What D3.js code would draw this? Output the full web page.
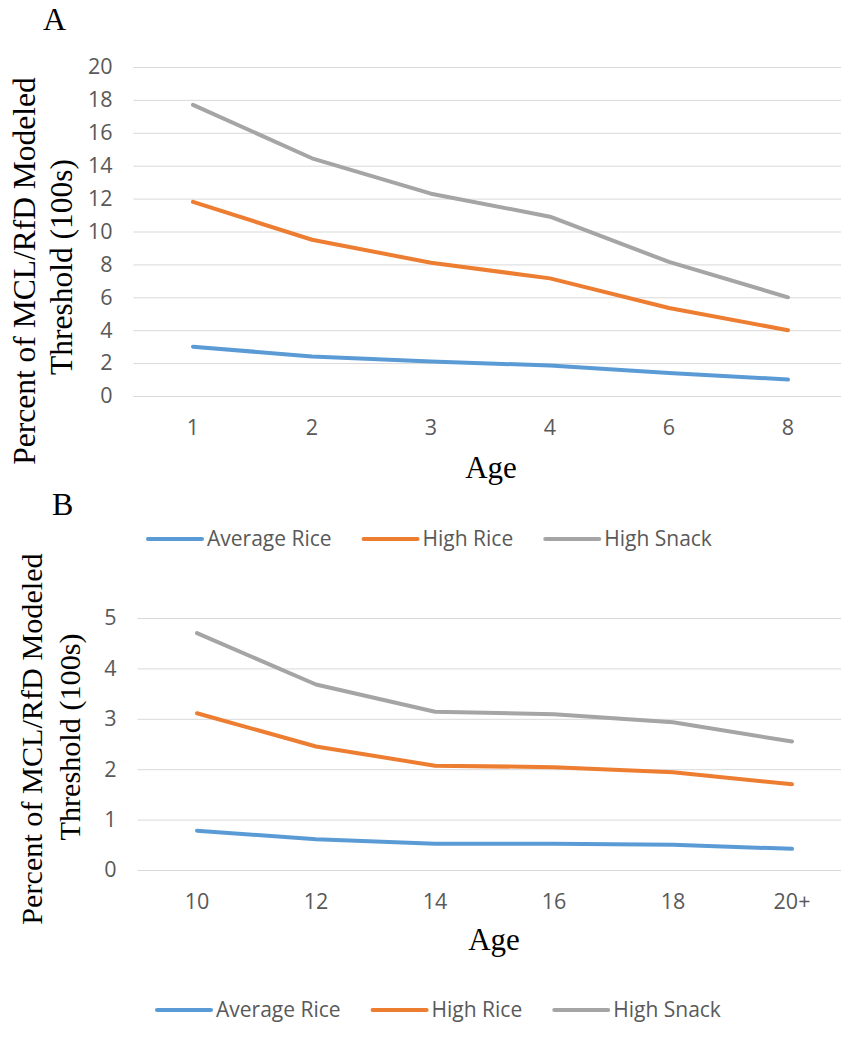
<!DOCTYPE html>
<html><head><meta charset="utf-8">
<script src="https://cdn.jsdelivr.net/npm/d3@7"></script>
<style>
body{margin:0;background:#fff;}
svg{display:block;}
.tick text{font-family:"Open Sans",sans-serif;fill:#595959;}
</style></head>
<body><svg id="c" width="841" height="1050"></svg>
<script>
const seriesNames = ["Average Rice", "High Rice", "High Snack"];
const seriesColors = ["#5B9BD5", "#ED7D31", "#A5A5A5"];

const agesA = ["1", "2", "3", "4", "6", "8"];
const avgRiceA = [3.0, 2.4, 2.1, 1.85, 1.4, 1.0];
const highRiceA = [11.8, 9.5, 8.1, 7.15, 5.35, 4.0];
const highSnackA = [17.7, 14.45, 12.3, 10.9, 8.15, 6.0];
const yTicksA = [0, 2, 4, 6, 8, 10, 12, 14, 16, 18, 20];

const agesB = ["10", "12", "14", "16", "18", "20+"];
const avgRiceB = [0.78, 0.61, 0.52, 0.52, 0.5, 0.42];
const highRiceB = [3.11, 2.45, 2.07, 2.04, 1.94, 1.7];
const highSnackB = [4.7, 3.68, 3.14, 3.09, 2.93, 2.55];
const yTicksB = [0, 1, 2, 3, 4, 5];

const yLabel1 = "Percent of MCL/RfD Modeled";
const yLabel2 = "Threshold (100s)";
const xLabel = "Age";

const svg = d3.select("#c");

function panel(cfg){
  const g = svg.append("g");
  const x = d3.scaleBand().domain(cfg.cats).range([cfg.x0, cfg.x1]);
  const y = d3.scaleLinear().domain(cfg.ydom).range([cfg.yb, cfg.yt]);
  const cx = c => x(c) + x.bandwidth()/2;

  const ya = g.append("g").attr("transform", `translate(${cfg.x0},0)`)
    .call(d3.axisLeft(y).tickValues(cfg.yticks).tickSizeInner(-(841 - cfg.x0)).tickSizeOuter(0).tickPadding(21).tickFormat(d3.format("d")));
  ya.select(".domain").remove();
  ya.selectAll(".tick line").attr("stroke", "#D9D9D9").attr("stroke-width", 1);
  ya.selectAll(".tick text").attr("font-size", 21.5);

  const xa = g.append("g").attr("transform", `translate(0,${cfg.yb})`)
    .call(d3.axisBottom(x).tickSize(0).tickPadding(24));
  xa.select(".domain").remove();
  xa.selectAll(".tick text").attr("font-size", 21.5);

  const line = d3.line().x((d,i) => cx(cfg.cats[i])).y(d => y(d));
  cfg.series.forEach((vals, k) => {
    g.append("path").datum(vals).attr("d", line)
      .attr("fill", "none").attr("stroke", seriesColors[k])
      .attr("stroke-width", 4).attr("stroke-linejoin", "round").attr("stroke-linecap", "round");
  });

  g.append("text").attr("transform", `translate(${cfg.yl1x},${cfg.yl1y}) rotate(-90)`)
    .attr("text-anchor", "middle").attr("font-family", "Liberation Serif, serif")
    .attr("font-size", cfg.lfs).attr("fill", "#000").text(yLabel1);
  g.append("text").attr("transform", `translate(${cfg.yl2x},${cfg.yl2y}) rotate(-90)`)
    .attr("text-anchor", "middle").attr("font-family", "Liberation Serif, serif")
    .attr("font-size", cfg.lfs).attr("fill", "#000").text(yLabel2);
  g.append("text").attr("x", cfg.agex).attr("y", cfg.agey).attr("text-anchor", "middle")
    .attr("font-family", "Liberation Serif, serif").attr("font-size", 31).attr("fill", "#000").text(xLabel);
  g.append("text").attr("x", cfg.letx).attr("y", cfg.lety)
    .attr("font-family", "Liberation Serif, serif").attr("font-size", 32).attr("fill", "#000").text(cfg.letter);

  const lg = g.append("g").attr("transform", `translate(${cfg.legx},${cfg.legy})`);
  let xpos = 0;
  seriesNames.forEach((n, k) => {
    lg.append("line").attr("x1", xpos).attr("x2", xpos + 54).attr("y1", 0).attr("y2", 0)
      .attr("stroke", seriesColors[k]).attr("stroke-width", 4).attr("stroke-linecap", "round");
    const t = lg.append("text").attr("x", xpos + 59).attr("y", 0).attr("dy", "0.35em")
      .attr("font-family", "Open Sans, sans-serif").attr("font-size", 21).attr("fill", "#595959").text(n);
    xpos += 59 + t.node().getComputedTextLength() + 32;
  });
}

panel({cats: agesA, series: [avgRiceA, highRiceA, highSnackA], ydom: [0, 20], yticks: yTicksA,
  x0: 133.5, x1: 847.5, yb: 396, yt: 67,
  yl1x: 35, yl1y: 271, yl2x: 72, yl2y: 267, lfs: 31.5,
  agex: 491, agey: 478, letx: 43, lety: 30, letter: "A",
  legx: 148, legy: 539});

panel({cats: agesB, series: [avgRiceB, highRiceB, highSnackB], ydom: [0, 5], yticks: yTicksB,
  x0: 137.5, x1: 851.5, yb: 870, yt: 618,
  yl1x: 42, yl1y: 739, yl2x: 80, yl2y: 737, lfs: 30.2,
  agex: 494, agey: 950, letx: 52, lety: 515, letter: "B",
  legx: 157, legy: 1010});
</script></body></html>
